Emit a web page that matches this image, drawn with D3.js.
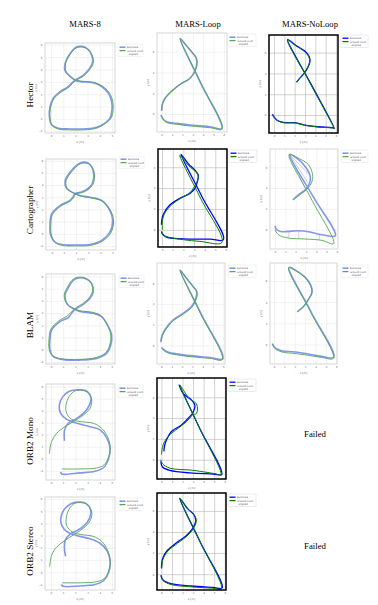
<!DOCTYPE html>
<html>
<head>
<meta charset="utf-8">
<script src="https://cdn.jsdelivr.net/npm/d3@7"></script>
<style>
  body { margin: 0; background: #fff; }
  svg { display: block; }
</style>
</head>
<body>
<svg id="chart"></svg>
<script>
const W = 378, H = 605;

const methods = ["Hector", "Cartographer", "BLAM", "ORB2 Mono", "ORB2 Stereo"];
const datasets = ["MARS-8", "MARS-Loop", "MARS-NoLoop"];
const legendLabels = ["Estimate", "Ground truth", "aligned"];

const eightXTicks = [0, 1, 2, 3, 4, 5];
const eightYTicks = [-1, 0, 1, 2, 3, 4, 5, 6];
const loopXTicks = [0, 1, 2, 3, 4, 5, 6];
const loopYTicks = [0, 2, 4, 6];

// ---- trajectories, [x, y] in metres ----
const hector8Est = [[2.0,3.1],[1.5,3.5],[1.15,3.9],[1.15,4.5],[1.5,5.2],[2.05,5.8],[2.75,5.82],[3.3,5.25],[3.4,4.55],[3.1,4.0],[2.6,3.5],[2.0,3.15],[1.7,2.9],[1.42,2.62],[0.74,2.2],[0.19,1.68],[-0.08,1.0],[-0.14,0.19],[0.05,-0.49],[0.6,-0.76],[1.56,-0.82],[2.92,-0.81],[3.74,-0.68],[4.43,-0.35],[4.84,0.05],[5.0,0.73],[4.97,1.4],[4.7,2.08],[4.15,2.62],[3.45,2.92],[2.4,3.02],[2.0,3.1]];
const hector8Gt = [[2.04,3.14],[1.54,3.44],[1.21,3.86],[1.2,4.52],[1.56,5.22],[2.1,5.76],[2.8,5.76],[3.36,5.2],[3.46,4.5],[3.14,3.96],[2.64,3.45],[2.04,3.14],[1.74,2.86],[1.46,2.56],[0.78,2.14],[0.23,1.62],[-0.03,0.95],[-0.09,0.14],[0.1,-0.55],[0.66,-0.84],[1.6,-0.9],[2.98,-0.88],[3.82,-0.73],[4.52,-0.32],[4.94,0.08],[5.1,0.76],[5.06,1.44],[4.78,2.12],[4.2,2.66],[3.5,2.96],[2.44,3.06],[2.04,3.14]];

const hectorLoopEst = [[0.0,0.3],[0.05,0.9],[0.32,1.5],[0.97,2.2],[1.94,2.97],[2.58,3.32],[3.0,3.77],[3.3,4.4],[3.39,5.0],[3.3,5.45],[2.95,5.9],[2.45,6.5],[1.77,7.26],[3.75,3.0],[5.8,-1.39],[4.68,-1.23],[2.74,-1.06],[1.45,-0.9],[0.48,-0.74],[0.1,-0.42],[-0.06,-0.1]];
const hectorLoopGt = [[0.02,0.45],[0.08,1.0],[0.35,1.55],[1.0,2.23],[1.96,2.99],[2.6,3.34],[3.03,3.8],[3.33,4.42],[3.42,5.02],[3.32,5.47],[2.97,5.92],[2.47,6.52],[1.79,7.24],[3.78,2.98],[5.82,-1.45],[4.7,-1.32],[2.76,-1.15],[1.47,-0.99],[0.5,-0.82],[0.12,-0.48],[-0.04,-0.14]];

const hectorNoLoopEst = [[-0.16,0.06],[0.26,-0.48],[0.9,-0.71],[2.03,-0.74],[3.0,-0.97],[4.29,-1.13],[5.74,-1.23],[5.84,-1.29],[3.57,3.0],[1.32,7.26],[2.03,6.77],[3.0,6.13],[3.39,5.65],[3.48,5.16],[3.32,4.68],[2.94,4.03],[2.5,3.55],[2.19,3.16]];
const hectorNoLoopGt = [[-0.14,0.02],[0.28,-0.5],[0.92,-0.74],[2.05,-0.77],[3.02,-1.0],[4.3,-1.16],[5.72,-1.27],[5.8,-1.32],[3.54,2.98],[1.3,7.22],[2.02,6.72],[2.98,6.08],[3.37,5.6],[3.45,5.12],[3.29,4.64],[2.91,4.0],[2.47,3.52],[2.16,3.13]];

const cart8Est = [[1.91,3.3],[1.45,3.55],[1.2,3.75],[1.1,4.35],[1.5,5.05],[2.3,5.8],[3.0,5.8],[3.4,5.2],[3.42,4.4],[3.15,3.85],[2.5,3.45],[1.91,3.3],[1.77,3.05],[1.5,2.75],[0.68,2.32],[0.0,1.64],[-0.14,0.82],[-0.08,-0.14],[0.27,-0.68],[0.95,-0.9],[2.0,-0.92],[3.14,-0.88],[4.1,-0.55],[4.78,0.13],[5.0,1.09],[4.78,1.91],[4.1,2.73],[3.14,3.0],[2.3,3.15],[1.91,3.3]];
const cart8Gt = [[1.96,3.27],[1.5,3.5],[1.27,3.7],[1.17,4.32],[1.57,5.0],[2.35,5.74],[3.05,5.74],[3.46,5.15],[3.48,4.35],[3.2,3.8],[2.55,3.4],[1.96,3.27],[1.82,3.0],[1.55,2.7],[0.73,2.26],[0.06,1.58],[-0.07,0.76],[-0.01,-0.19],[0.33,-0.75],[1.0,-0.97],[2.05,-0.99],[3.2,-0.95],[4.17,-0.6],[4.86,0.08],[5.08,1.04],[4.86,1.86],[4.16,2.68],[3.2,2.95],[2.35,3.1],[1.96,3.27]];

const cartLoopEst = [[-0.06,0.48],[0.09,1.43],[0.73,2.38],[1.67,3.02],[2.62,3.49],[3.09,3.97],[3.31,4.6],[3.41,5.24],[3.09,5.71],[2.46,6.35],[1.77,7.24],[3.74,3.2],[5.77,-0.95],[4.51,-0.89],[2.46,-0.89],[0.41,-0.7],[0.03,-0.38],[-0.06,-0.16]];
const cartLoopGt = [[0.03,0.0],[0.03,0.79],[0.25,1.59],[0.88,2.38],[1.83,3.08],[2.62,3.56],[3.03,4.13],[3.41,5.02],[3.25,5.46],[2.46,6.19],[1.67,7.14],[3.63,3.0],[5.62,-1.21],[3.56,-1.11],[1.99,-0.95],[0.57,-0.7],[0.09,-0.48],[-0.03,-0.16]];

const cartNoLoopEst = [[0.0,0.38],[0.16,0.0],[0.65,-0.19],[1.3,-0.16],[2.27,-0.1],[3.25,-0.19],[4.55,-0.48],[5.84,-0.58],[3.8,3.0],[1.4,7.22],[2.11,6.87],[2.92,6.07],[3.41,5.11],[3.34,4.47],[2.92,3.83],[2.27,3.35],[1.72,2.88]];
const cartNoLoopGt = [[0.0,0.0],[0.32,-0.48],[1.3,-0.8],[2.92,-0.89],[4.55,-1.02],[5.68,-1.34],[3.49,3.0],[1.36,7.22],[2.27,6.87],[3.25,6.23],[3.64,5.27],[3.57,4.63],[3.18,3.99],[2.6,3.51],[1.79,2.88]];
const cartNoLoopErr = [[[0.05,0.36],[0.02,0.02]],[[1.35,-0.16],[1.32,-0.8]],[[2.3,-0.1],[2.3,-0.87]],[[4.3,-0.42],[4.28,-1.0]],[[1.4,7.22],[3.3,5.3]],[[1.4,7.22],[3.2,4.5]],[[1.4,7.22],[2.9,4.0]]];

const blam8Est = [[1.97,3.3],[1.45,3.6],[1.23,3.94],[1.15,4.48],[1.42,5.08],[1.78,5.63],[2.1,5.84],[2.79,5.84],[3.33,5.43],[3.47,4.76],[3.2,4.21],[2.65,3.72],[1.97,3.3],[1.69,2.99],[1.42,2.64],[0.74,2.31],[0.05,1.63],[-0.08,0.95],[-0.08,0.0],[0.19,-0.54],[0.87,-0.78],[2.38,-0.84],[3.74,-0.7],[4.56,-0.29],[4.91,0.41],[4.97,1.22],[4.64,2.04],[4.15,2.72],[3.47,2.99],[2.38,3.13],[1.97,3.3]];
const blam8Gt = [[1.93,3.35],[1.4,3.66],[1.17,4.0],[1.09,4.54],[1.36,5.14],[1.72,5.69],[2.05,5.9],[2.74,5.9],[3.27,5.5],[3.41,4.82],[3.14,4.27],[2.6,3.78],[1.93,3.35],[1.64,3.06],[1.32,2.76],[0.66,2.38],[-0.02,1.68],[-0.15,1.0],[-0.15,0.05],[0.13,-0.5],[0.82,-0.73],[2.34,-0.78],[3.7,-0.63],[4.5,-0.22],[4.84,0.48],[4.89,1.29],[4.57,2.11],[4.1,2.79],[3.43,3.06],[2.34,3.2],[1.93,3.35]];

const blamLoopEst = [[-0.06,0.38],[0.05,0.95],[0.32,1.5],[1.14,2.47],[2.11,3.1],[2.92,3.75],[3.34,4.55],[3.41,5.19],[3.08,5.67],[2.44,6.47],[1.79,7.28],[3.87,3.0],[5.94,-1.28],[4.71,-1.15],[2.11,-0.9],[0.49,-0.58],[0.0,-0.19]];
const blamLoopGt = [[-0.03,0.3],[0.08,0.9],[0.36,1.45],[1.18,2.42],[2.14,3.05],[2.96,3.7],[3.38,4.5],[3.45,5.15],[3.12,5.63],[2.48,6.43],[1.82,7.22],[3.85,2.95],[5.9,-1.35],[4.7,-1.24],[2.1,-0.99],[0.5,-0.66],[0.02,-0.25]];

const blamNoLoopEst = [[-0.16,0.1],[0.1,-0.32],[0.73,-0.58],[2.01,-0.7],[3.29,-0.89],[4.57,-1.12],[5.75,-1.21],[3.61,3.0],[1.44,7.28],[2.17,6.96],[2.97,6.39],[3.55,5.59],[3.67,4.95],[3.35,4.31],[2.91,3.67],[2.24,3.1]];
const blamNoLoopGt = [[-0.14,0.05],[0.13,-0.4],[0.76,-0.7],[2.03,-0.85],[3.3,-1.02],[4.58,-1.22],[5.72,-1.3],[3.56,3.0],[1.41,7.25],[2.15,6.93],[2.95,6.35],[3.52,5.55],[3.63,4.92],[3.31,4.28],[2.88,3.64],[2.21,3.07]];

const mono8Est = [[1.1,1.49],[1.12,2.4],[1.42,2.95],[1.97,3.28],[2.66,3.77],[3.15,4.46],[3.26,5.15],[2.79,5.7],[2.11,5.72],[1.5,5.62],[0.96,5.15],[0.68,4.46],[0.79,3.77],[1.29,3.28],[2.11,2.95],[3.2,2.67],[4.03,2.4],[4.58,1.71],[4.85,0.88],[4.74,0.05],[4.36,-0.69],[3.62,-1.05],[2.38,-1.18],[0.88,-1.27],[0.8,-1.1]];
const mono8Gt = [[-0.14,0.41],[0.05,1.43],[0.47,2.12],[1.15,2.67],[1.84,3.09],[2.66,3.64],[3.2,4.19],[3.34,4.88],[3.07,5.48],[2.52,5.7],[1.97,5.65],[1.51,5.21],[1.23,4.46],[1.29,3.77],[1.7,3.28],[2.38,3.09],[3.48,2.95],[4.16,2.53],[4.63,1.85],[4.85,1.02],[4.74,0.19],[4.36,-0.5],[3.75,-0.77],[2.38,-0.85],[0.88,-0.85]];

const monoLoopEst = [[0.25,0.8],[0.25,1.1],[0.48,1.91],[0.95,2.71],[1.9,3.34],[2.54,3.98],[2.95,4.46],[3.17,5.25],[2.86,5.73],[2.06,6.37],[1.68,7.17],[3.63,3.0],[5.71,-1.43],[4.92,-1.37],[2.7,-1.27],[0.79,-1.02],[0.1,-0.7],[-0.06,-0.16]];
const monoLoopGt = [[0.0,0.48],[0.16,1.43],[0.63,2.23],[1.59,3.03],[2.38,3.66],[2.95,4.3],[3.33,4.46],[3.33,5.35],[2.63,5.89],[1.75,7.17],[3.63,3.0],[5.62,-1.43],[5.08,-1.34],[3.02,-1.02],[0.79,-0.8],[0.1,-0.38],[-0.06,0.0]];

const stereo8Est = [[1.2,1.3],[1.1,2.0],[1.2,2.7],[1.6,3.15],[2.1,3.4],[2.7,3.8],[3.15,4.4],[3.25,5.1],[2.85,5.65],[2.2,5.75],[1.6,5.6],[1.05,5.1],[0.8,4.4],[0.9,3.8],[1.35,3.3],[2.15,3.0],[3.2,2.75],[4.0,2.4],[4.6,1.75],[4.85,0.9],[4.75,0.05],[4.35,-0.65],[3.6,-1.0],[2.4,-1.12],[1.0,-1.15],[0.85,-1.0]];
const stereo8Gt = [[-0.1,0.45],[0.05,1.4],[0.5,2.1],[1.2,2.65],[1.9,3.1],[2.7,3.65],[3.2,4.2],[3.35,4.9],[3.05,5.5],[2.5,5.72],[1.95,5.65],[1.5,5.2],[1.25,4.45],[1.3,3.8],[1.75,3.3],[2.4,3.1],[3.45,2.95],[4.15,2.55],[4.62,1.85],[4.85,1.0],[4.75,0.15],[4.38,-0.5],[3.75,-0.77],[2.4,-0.86],[0.9,-0.86]];

const stereoLoopEst = [[0.0,0.6],[0.12,1.5],[0.55,2.25],[1.45,3.0],[2.3,3.6],[2.9,4.25],[3.25,5.05],[3.1,5.6],[2.5,6.2],[1.72,7.2],[3.7,3.0],[5.75,-1.3],[4.9,-1.25],[2.8,-1.12],[0.9,-0.9],[0.15,-0.55],[-0.05,-0.1]];
const stereoLoopGt = [[0.02,0.5],[0.15,1.4],[0.6,2.18],[1.55,2.95],[2.35,3.55],[2.95,4.2],[3.3,5.0],[3.15,5.55],[2.55,6.15],[1.78,7.15],[3.72,2.95],[5.68,-1.38],[4.85,-1.33],[2.8,-1.2],[0.9,-0.98],[0.15,-0.6],[-0.04,-0.15]];

// ---- panel layout ----
const panels = [
  { row: 0, col: 0, style: "light", est: hector8Est, gt: hector8Gt, frame: [45, 43, 70, 90], xDom: [-0.5, 5.25], yDom: [-1.15, 6.15], legend: [118, 44, 25] },
  { row: 0, col: 1, style: "light", est: hectorLoopEst, gt: hectorLoopGt, frame: [157, 33, 70, 99], xDom: [-0.45, 6.3], yDom: [-1.73, 7.8], legend: [228, 34, 28] },
  { row: 0, col: 2, style: "dark", est: hectorNoLoopEst, gt: hectorNoLoopGt, frame: [269, 35, 69, 98], xDom: [-0.48, 6.19], yDom: [-1.73, 7.7], legend: [341, 35, 27] },
  { row: 1, col: 0, style: "light", est: cart8Est, gt: cart8Gt, frame: [46, 159, 70, 91], xDom: [-0.47, 5.28], yDom: [-1.33, 6.14], legend: [119, 156, 25] },
  { row: 1, col: 1, style: "dark", est: cartLoopEst, gt: cartLoopGt, frame: [158, 149, 69, 98], xDom: [-0.38, 6.1], yDom: [-1.65, 7.75], legend: [229, 150, 28] },
  { row: 1, col: 2, style: "light", est: cartNoLoopEst, gt: cartNoLoopGt, err: cartNoLoopErr, frame: [270, 149, 68, 100], xDom: [-0.49, 6.1], yDom: [-1.85, 7.75], legend: [341, 150, 27] },
  { row: 2, col: 0, style: "light", est: blam8Est, gt: blam8Gt, frame: [46, 274, 69, 90], xDom: [-0.41, 5.25], yDom: [-1.16, 6.2], legend: [119, 275, 25] },
  { row: 2, col: 1, style: "light", est: blamLoopEst, gt: blamLoopGt, frame: [157, 263, 68, 101], xDom: [-0.43, 6.16], yDom: [-1.78, 7.95], legend: [228, 265, 28] },
  { row: 2, col: 2, style: "light", est: blamNoLoopEst, gt: blamNoLoopGt, frame: [270, 263, 67, 101], xDom: [-0.38, 6.06], yDom: [-1.84, 7.7], legend: [341, 265, 27] },
  { row: 3, col: 0, style: "light", est: mono8Est, gt: mono8Gt, frame: [46, 384, 69, 96], xDom: [-0.41, 5.25], yDom: [-1.77, 6.22], legend: [118, 385, 25] },
  { row: 3, col: 1, style: "dark", est: monoLoopEst, gt: monoLoopGt, frame: [157, 378, 69, 101], xDom: [-0.42, 6.12], yDom: [-1.85, 7.85], legend: [228, 379, 28] },
  { row: 4, col: 0, style: "light", est: stereo8Est, gt: stereo8Gt, frame: [45, 497, 70, 93], xDom: [-0.49, 5.25], yDom: [-1.45, 6.17], legend: [118, 498, 25] },
  { row: 4, col: 1, style: "dark", est: stereoLoopEst, gt: stereoLoopGt, frame: [157, 493, 69, 97], xDom: [-0.42, 6.12], yDom: [-1.5, 7.7], legend: [228, 494, 28] }
];
const failed = [{ row: 3, col: 2, y: 437 }, { row: 4, col: 2, y: 549 }];

const styles = {
  light: { frame: "#cccccc", frameW: 0.8, grid: "#e4e4e4", est: "#8397ea", gt: "#55a655", estW: 1.6, gtW: 1.0, legendEdge: "#dddddd" },
  dark:  { frame: "#000000", frameW: 1.5, grid: "#b4b4b4", est: "#0000ff", gt: "#007f00", estW: 1.3, gtW: 1.0, legendEdge: "#cccccc" }
};

const serif = "'Liberation Serif', 'DejaVu Serif', serif";
const sans = "'DejaVu Sans', sans-serif";

const svg = d3.select("#chart").attr("width", W).attr("height", H);
svg.append("rect").attr("width", W).attr("height", H).attr("fill", "#fff");

// column titles
const titleX = [85, 198, 310];
svg.selectAll("text.title").data(datasets).join("text")
  .attr("class", "title")
  .attr("x", (d, i) => titleX[i])
  .attr("y", 26.5)
  .attr("text-anchor", "middle")
  .style("font-family", serif)
  .style("font-size", "8.6px")
  .text(d => d);

// row labels
const rowY = [95, 210, 325, 441, 551];
svg.selectAll("text.rowlab").data(methods).join("text")
  .attr("class", "rowlab")
  .attr("transform", (d, i) => `translate(33,${rowY[i]}) rotate(-90)`)
  .attr("text-anchor", "middle")
  .style("font-family", serif)
  .style("font-size", "9.2px")
  .text(d => d);

panels.forEach(drawPanel);

svg.selectAll("text.failed").data(failed).join("text")
  .attr("class", "failed")
  .attr("x", 315)
  .attr("y", d => d.y)
  .attr("text-anchor", "middle")
  .style("font-family", serif)
  .style("font-size", "8.8px")
  .text("Failed");

function drawPanel(p) {
  const st = styles[p.style];
  const [fx, fy, fw, fh] = p.frame;
  const eight = p.col === 0;
  const xt = eight ? eightXTicks : loopXTicks;
  const yt = eight ? eightYTicks : loopYTicks;

  const x = d3.scaleLinear().domain(p.xDom).range([fx, fx + fw]);
  const y = d3.scaleLinear().domain(p.yDom).range([fy + fh, fy]);

  const g = svg.append("g");

  g.append("rect")
    .attr("x", fx).attr("y", fy).attr("width", fw).attr("height", fh)
    .attr("fill", "#fff");

  // grid + tick labels via d3 axes
  const xAxis = g.append("g")
    .attr("transform", `translate(0,${fy + fh})`)
    .call(d3.axisBottom(x).tickValues(xt).tickSize(-fh).tickPadding(2.5).tickFormat(d3.format("d")));
  const yAxis = g.append("g")
    .attr("transform", `translate(${fx},0)`)
    .call(d3.axisLeft(y).tickValues(yt).tickSize(-fw).tickPadding(2.5).tickFormat(d3.format("d")));
  [xAxis, yAxis].forEach(a => {
    a.select(".domain").remove();
    a.selectAll(".tick line").attr("stroke", st.grid).attr("stroke-width", p.style === "dark" ? 0.6 : 0.5);
    a.selectAll(".tick text")
      .attr("fill", "#666")
      .style("font-family", sans)
      .style("font-size", "2.6px");
  });

  // axis titles
  g.append("text")
    .attr("x", fx + fw / 2).attr("y", fy + fh + 9.5)
    .attr("text-anchor", "middle")
    .attr("fill", "#666")
    .style("font-family", sans).style("font-size", "2.8px")
    .text("x [m]");
  g.append("text")
    .attr("transform", `translate(${fx - 8},${fy + fh / 2}) rotate(-90)`)
    .attr("text-anchor", "middle")
    .attr("fill", "#666")
    .style("font-family", sans).style("font-size", "2.8px")
    .text("y [m]");

  const line = d3.line()
    .x(d => x(d[0]))
    .y(d => y(d[1]))
    .curve(d3.curveCatmullRom.alpha(0.5));

  const plot = g.append("g");

  if (p.err) {
    plot.selectAll("line.err").data(p.err).join("line")
      .attr("x1", d => x(d[0][0])).attr("y1", d => y(d[0][1]))
      .attr("x2", d => x(d[1][0])).attr("y2", d => y(d[1][1]))
      .attr("stroke", "#9aa0c8").attr("stroke-width", 0.5);
  }

  plot.append("path")
    .datum(p.est)
    .attr("d", line)
    .attr("fill", "none")
    .attr("stroke", st.est)
    .attr("stroke-width", st.estW)
    .attr("stroke-linejoin", "round");

  plot.append("path")
    .datum(p.gt)
    .attr("d", line)
    .attr("fill", "none")
    .attr("stroke", st.gt)
    .attr("stroke-width", st.gtW)
    .attr("stroke-linejoin", "round")
    .attr("opacity", p.style === "light" ? 0.9 : 1);

  g.append("rect")
    .attr("x", fx).attr("y", fy).attr("width", fw).attr("height", fh)
    .attr("fill", "none")
    .attr("stroke", st.frame)
    .attr("stroke-width", st.frameW);

  // legend
  const [lx, ly, lw] = p.legend;
  const lg = g.append("g").attr("transform", `translate(${lx},${ly})`);
  lg.append("rect")
    .attr("width", lw).attr("height", 12.5).attr("rx", 0.8)
    .attr("fill", "#fff")
    .attr("stroke", st.legendEdge).attr("stroke-width", 0.4);
  const entries = [{ c: st.est, w: st.estW, yy: 3.2 }, { c: st.gt, w: st.gtW + 0.3, yy: 6.6 }];
  lg.selectAll("line").data(entries).join("line")
    .attr("x1", 1.5).attr("x2", 7.5)
    .attr("y1", d => d.yy).attr("y2", d => d.yy)
    .attr("stroke", d => d.c)
    .attr("stroke-width", d => d.w);
  lg.selectAll("text").data(legendLabels).join("text")
    .attr("x", (d, i) => i === 2 ? 10.5 : 9)
    .attr("y", (d, i) => [4.1, 7.5, 10.8][i])
    .attr("fill", "#555")
    .style("font-family", sans)
    .style("font-size", "2.5px")
    .text(d => d);
}
</script>
</body>
</html>
